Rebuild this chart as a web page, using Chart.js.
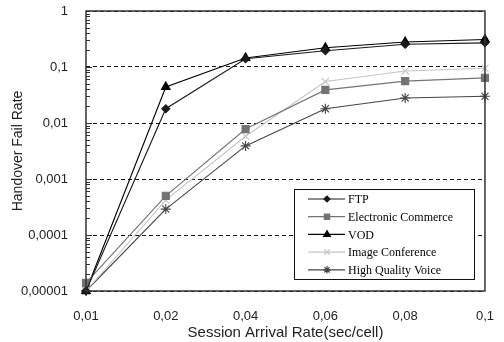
<!DOCTYPE html>
<html>
<head>
<meta charset="utf-8">
<script src="https://cdn.jsdelivr.net/npm/chart.js@4/dist/chart.umd.min.js"></script>
<style>
  html, body { margin: 0; padding: 0; background: #fff; }
  #wrap { width: 504px; height: 342px; }
</style>
</head>
<body>
<div id="wrap"><canvas id="chart" width="504" height="342"></canvas></div>
<script>
// session arrival rate categories
var categories = ['0,01', '0,02', '0,04', '0,06', '0,08', '0,1'];

// handover fail rate per service
var ftp       = [0.00001, 0.018, 0.14, 0.195, 0.255, 0.27];
var ecommerce = [0.000014, 0.0005, 0.0078, 0.039, 0.056, 0.064];
var vod       = [0.00001, 0.044, 0.145, 0.22, 0.28, 0.31];
var imageConf = [0.00001, 0.00042, 0.0058, 0.055, 0.085, 0.095];
var hqVoice   = [0.00001, 0.00029, 0.0039, 0.018, 0.028, 0.030];

var yTicks = [0.00001, 0.0001, 0.001, 0.01, 0.1, 1];
var yTickLabels = ['0,00001', '0,0001', '0,001', '0,01', '0,1', '1'];

function makeSet(label, data, color, style, radius) {
    return {
        label: label,
        data: data,
        borderColor: color,
        backgroundColor: color,
        pointBackgroundColor: color,
        pointBorderColor: color,
        pointStyle: style,
        pointRadius: radius,
        pointBorderWidth: 1.1,
        borderWidth: 1.1,
        tension: 0,
        clip: false
    };
}

var datasets = [
    makeSet('FTP', ftp, '#1a1a1a', 'rectRot', 4),
    makeSet('Electronic Commerce', ecommerce, '#737373', 'rect', 5),
    makeSet('VOD', vod, '#000000', 'triangle', 5),
    makeSet('Image Conference', imageConf, '#c4c4c4', 'crossRot', 5),
    makeSet('High Quality Voice', hqVoice, '#454545', 'star', 5)
];

// frame, minor ticks on the log axis, legend box inside the plot
var decorPlugin = {
    id: 'decor',
    afterDatasetsDraw: function (chart) {
        var ctx = chart.ctx;
        var a = chart.chartArea;
        var y = chart.scales.y;
        ctx.save();
        ctx.setLineDash([]);
        // minor ticks
        ctx.strokeStyle = '#333';
        ctx.lineWidth = 1;
        for (var d = -5; d < 0; d++) {
            for (var m = 1; m <= 9; m++) {
                var v = m * Math.pow(10, d);
                var py = Math.round(y.getPixelForValue(v)) + 0.5;
                var len = m === 1 ? 6 : 4;
                ctx.beginPath();
                ctx.moveTo(a.left, py);
                ctx.lineTo(a.left + len, py);
                ctx.stroke();
            }
        }
        // frame
        ctx.strokeStyle = '#333';
        ctx.lineWidth = 1.5;
        ctx.strokeRect(a.left, a.top, a.right - a.left, a.bottom - a.top);

        // legend
        var bx = 294, by = 189, bw = 180, bh = 90;
        ctx.fillStyle = '#fff';
        ctx.fillRect(bx, by, bw, bh);
        ctx.strokeStyle = '#111';
        ctx.lineWidth = 1;
        ctx.strokeRect(bx + 0.5, by + 0.5, bw, bh);
        ctx.font = '12px "Liberation Serif", serif';
        ctx.textBaseline = 'middle';
        datasets.forEach(function (ds, i) {
            var ly = by + 10 + i * 17.7;
            ctx.strokeStyle = ds.borderColor;
            ctx.lineWidth = 1.2;
            ctx.beginPath();
            ctx.moveTo(308, ly);
            ctx.lineTo(345, ly);
            ctx.stroke();
            ctx.fillStyle = ds.borderColor;
            Chart.helpers.drawPoint(ctx, {
                pointStyle: ds.pointStyle,
                radius: ds.pointRadius * 0.75,
                rotation: 0,
                borderWidth: 1.2
            }, 327, ly);
            ctx.fillStyle = '#000';
            ctx.fillText(ds.label, 348, ly + 1);
        });
        ctx.restore();
    }
};

new Chart(document.getElementById('chart').getContext('2d'), {
    type: 'line',
    data: {
        labels: categories,
        datasets: datasets
    },
    options: {
        responsive: false,
        animation: false,
        events: [],
        layout: {
            padding: { top: 0, right: 14, left: 8, bottom: 0 }
        },
        plugins: {
            legend: { display: false },
            tooltip: { enabled: false }
        },
        scales: {
            x: {
                type: 'category',
                offset: false,
                grid: { display: false },
                border: { display: false },
                ticks: {
                    color: '#222',
                    font: { family: '"Liberation Sans", Arial, sans-serif', size: 13 },
                    padding: 10,
                    maxRotation: 0
                },
                title: {
                    display: true,
                    text: 'Session Arrival Rate(sec/cell)',
                    color: '#222',
                    font: { family: '"Liberation Sans", Arial, sans-serif', size: 15 },
                    padding: { top: 0, bottom: 0 }
                },
                afterFit: function (s) { s.height = 51; }
            },
            y: {
                type: 'logarithmic',
                min: 0.00001,
                max: 1,
                afterBuildTicks: function (s) {
                    s.ticks = yTicks.map(function (v) { return { value: v, major: true }; });
                },
                grid: {
                    color: '#111',
                    lineWidth: 1,
                    drawTicks: false
                },
                border: { display: false, dash: [4, 3] },
                ticks: {
                    color: '#222',
                    font: { family: '"Liberation Sans", Arial, sans-serif', size: 13 },
                    padding: 18,
                    autoSkip: false,
                    callback: function (v) {
                        var i = yTicks.indexOf(v);
                        return i >= 0 ? yTickLabels[i] : '';
                    }
                },
                title: {
                    display: true,
                    text: 'Handover Fail Rate',
                    color: '#222',
                    font: { family: '"Liberation Sans", Arial, sans-serif', size: 14 },
                    padding: { top: 2, bottom: 0 }
                },
                afterFit: function (s) {
                    s.width = 78;
                    s.paddingTop = 11;
                    s.paddingBottom = 8;
                }
            }
        }
    },
    plugins: [decorPlugin]
});
</script>
</body>
</html>
